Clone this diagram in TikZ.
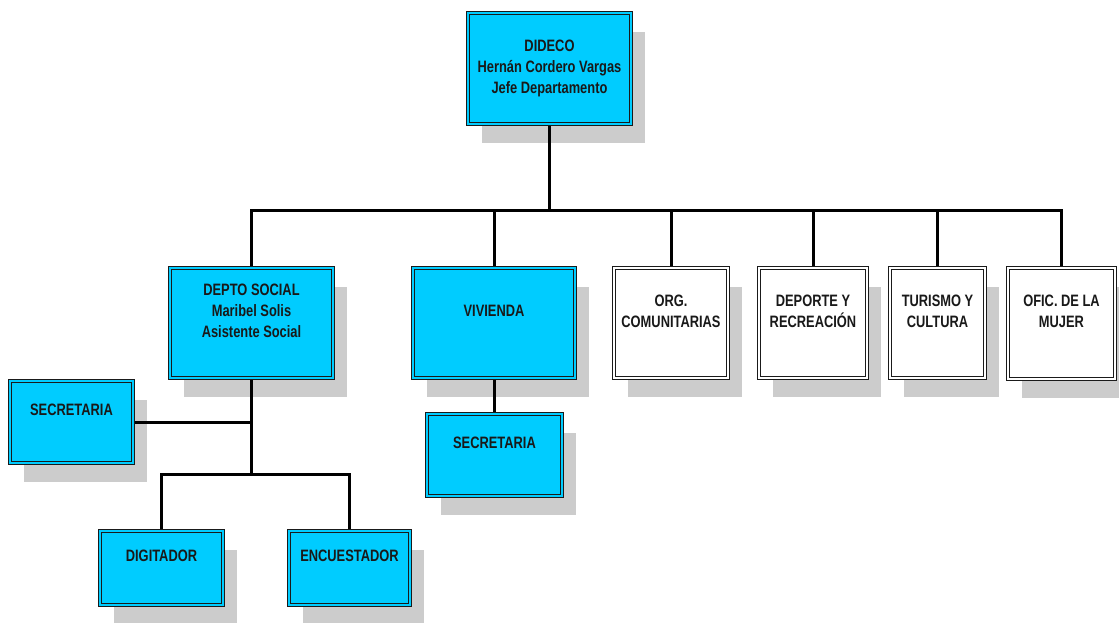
\documentclass[tikz,border=0pt]{standalone}
\usepackage{fontspec}
\newfontfamily\lblfont[FakeStretch=0.78]{Liberation Sans}
\usetikzlibrary{shadows}
\definecolor{boxblue}{HTML}{00CCFF}
\definecolor{edgecol}{HTML}{1A1A1A}
\definecolor{shadecol}{HTML}{CCCCCC}
\tikzset{
  basebox/.style={rectangle, inner sep=0pt, outer sep=1.95pt, draw=edgecol,
    line width=1.3pt, double distance=1.3pt,
    drop shadow={shadow xshift=14pt, shadow yshift=-19pt, fill=shadecol, opacity=1}},
  bluebox/.style={basebox, fill=boxblue, double=boxblue},
  whitebox/.style={basebox, fill=white, double=white},
  lbl/.style={align=center, font=\lblfont\bfseries\fontsize{16.5}{21}\selectfont,
    text=black!90, inner sep=0pt},
  conn/.style={draw=black, line width=3pt}
}
% name, style, left, top, right, bottom, text lift, text
\newcommand\obox[8]{%
  \node[#2, minimum width={(#5-#3)*1pt-3.9pt}, minimum height={(#6-#4)*1pt-3.9pt}]
    (#1) at ({(#3+#5)/2},{(#4+#6)/2}) {};
  \node[lbl] (#1-t) at ([yshift=#7pt]#1.center) {#8};
}
\begin{document}
\begin{tikzpicture}[x=1pt,y=-1pt]
\useasboundingbox (0,0) rectangle (1119,623);
\obox{dideco}{bluebox}{466}{11}{633}{126}{0}{DIDECO\\Hernán Cordero Vargas\\Jefe Departamento}
\obox{depto}{bluebox}{168}{266}{335}{380}{12}{DEPTO SOCIAL\\Maribel Solis\\Asistente Social}
\obox{viv}{bluebox}{411}{266}{577}{380}{12}{VIVIENDA}
\obox{org}{whitebox}{612}{266}{730}{380}{12}{ORG.\\COMUNITARIAS}
\obox{dep}{whitebox}{757}{266}{869}{380}{12}{DEPORTE Y\\RECREACIÓN}
\obox{tur}{whitebox}{888}{266}{987}{380}{12}{TURISMO Y\\CULTURA}
\obox{ofic}{whitebox}{1006}{266}{1117}{381}{12}{OFIC. DE LA\\MUJER}
\obox{sec1}{bluebox}{8}{379}{135}{465}{12}{SECRETARIA}
\obox{sec2}{bluebox}{425}{412}{564}{498}{12}{SECRETARIA}
\obox{dig}{bluebox}{98}{529}{225}{607}{12}{DIGITADOR}
\obox{enc}{bluebox}{287}{529}{412}{607}{12}{ENCUESTADOR}
\coordinate (bus) at (549.5,210);
\coordinate (lvl) at (0,474);
\draw[conn] (dideco.south) -- (bus);
\draw[conn] (depto.north) -- (depto.north |- bus) -- (ofic.north |- bus) -- (ofic.north);
\foreach \n in {viv,org,dep,tur} \draw[conn] (\n.north) -- (\n.north |- bus);
\draw[conn] (depto.south) -- (depto.south |- lvl);
\draw[conn] (sec1.east) -- (sec1.east -| depto.south);
\draw[conn] (dig.north) -- (dig.north |- lvl) -- (enc.north |- lvl) -- (enc.north);
\draw[conn] (viv.south) -- (viv.south |- sec2.north);
\end{tikzpicture}
\end{document}
